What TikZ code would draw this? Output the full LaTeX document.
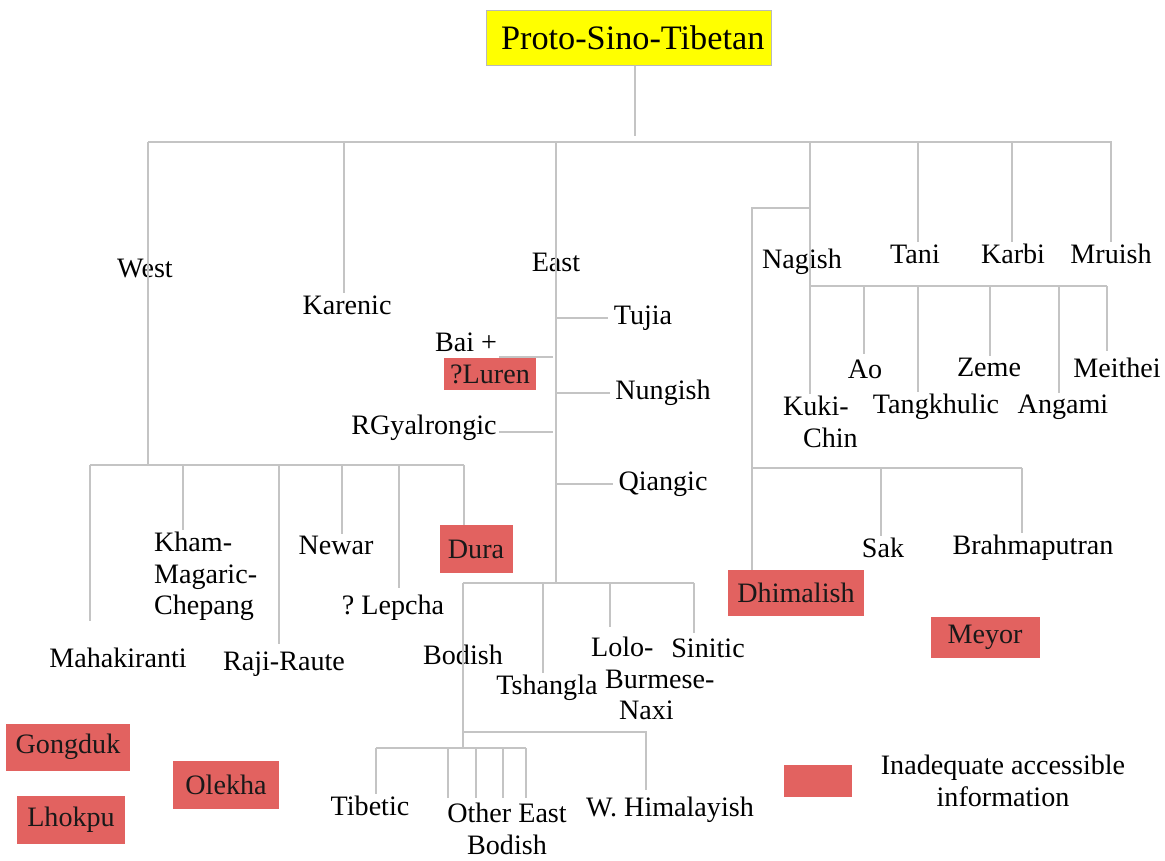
\documentclass[tikz,border=0pt]{standalone}
\usepackage{fontspec}
\setmainfont{Liberation Serif}
\usepackage{tikz}
\usetikzlibrary{positioning,calc}
\definecolor{rootyellow}{RGB}{255,255,0}
\definecolor{gapred}{RGB}{226,98,96}
\definecolor{branchgray}{RGB}{196,196,196}
\frenchspacing

\begin{document}
\begin{tikzpicture}[x=0.02cm, y=-0.02cm,
  lang/.style={font=\fontsize{16}{18}\selectfont, inner sep=1pt},
  gapbox/.style={lang, fill=gapred, text=black!90, inner sep=0pt},
  branch/.style={draw=branchgray, line width=0.7pt}]

\useasboundingbox (0,0) rectangle (1165,860);

%% ── ROOT ──────────────────────────────────────────────────────────────────
\node[draw=gray!55, line width=0.4pt, fill=rootyellow,
      font=\fontsize{19.5}{22}\selectfont,
      minimum width=5.7cm, minimum height=1.1cm] (root) at (629,38)
  {\hspace*{0.15cm}Proto-Sino-Tibetan};

\coordinate (rootend) at (635,136);
\coordinate (barW)    at (148,142);
\coordinate (barE)    at (1112,142);
\draw[branch] (root.south -| rootend) -- (rootend);
\draw[branch] (barW) -- (barE);

%% ── TOP-LEVEL LABELS ──────────────────────────────────────────────────────
\node[lang] (west)    at (145,268)  {West};
\node[lang] (karenic) at (347,305)  {Karenic};
\node[lang] (east)    at (556,262)  {East};
\node[lang] (nagish)  at (802,262)  {Nagish};
\node[lang] (tani)    at (915,254)  {Tani};
\node[lang] (karbi)   at (1013,254) {Karbi};
\node[lang] (mruish)  at (1111,254) {Mruish};

% drops that stop at a label
\foreach \x/\lbl in {344/karenic, 918/tani, 1012/karbi, 1111/mruish}{
  \coordinate (j) at (\x,142);
  \draw[branch] (j) -- (j |- \lbl.north);
}

%% ── WEST ──────────────────────────────────────────────────────────────────
\node[lang] (mahak)  at (118,658) {Mahakiranti};
\node[lang, align=left, anchor=north west] (kham) at (152,530)
  {Kham-\\Magaric-\\Chepang};
\node[lang] (raji)   at (284,664) {Raji-Raute};
\node[lang] (newar)  at (336,545) {Newar};
\node[lang] (lepcha) at (393,608) {? Lepcha};
\node[gapbox, minimum width=1.46cm, minimum height=0.96cm] (dura) at (476,549) {Dura};

\coordinate (westj) at (148,465);
\coordinate (wL)    at (90,465);
\coordinate (wR)    at (464,465);
\draw[branch] (barW) -- (westj);
\draw[branch] (wL) -- (wR);
\foreach \x/\lbl/\gap in {90/mahak/0.5cm, 183/kham/0cm, 279/raji/0.12cm,
                          342/newar/0cm, 399/lepcha/0.1cm, 464/dura/0cm}{
  \coordinate (j) at (\x,465);
  \draw[branch, shorten >=\gap] (j) -- (j |- \lbl.north);
}

%% ── EAST ──────────────────────────────────────────────────────────────────
\node[lang] (tujia)   at (643,318) {Tujia};
\node[lang] (bai)     at (466,342) {Bai +};
\node[gapbox, minimum width=1.84cm, minimum height=0.64cm] (luren) at (490,374) {?Luren};
\node[lang] (nungish) at (663,393) {Nungish};
\node[lang] (rgyal)   at (424,428) {RGyalrongic};
\node[lang] (qiangic) at (663,484) {Qiangic};

\coordinate (eastj)   at (556,142);
\coordinate (eastbot) at (556,583);
\draw[branch] (eastj) -- (eastbot);

% side twigs off the East trunk
\foreach \y/\lbl in {318/tujia, 393/nungish, 484/qiangic}{
  \coordinate (j) at (556,\y);
  \draw[branch, shorten >=2pt] (j) -- (j -| \lbl.west);
}
\foreach \y/\lbl in {357/bai, 432/rgyal}{
  \coordinate (j) at (553,\y);
  \draw[branch] (j) -- (j -| \lbl.east);
}

% lower East bar
\node[lang] (bodish)   at (463,655) {Bodish};
\node[lang] (tshangla) at (547,688) {Tshangla};
\node[lang, align=left, anchor=north west] (lolo) at (589,635)
  {Lolo-\\\hspace*{0.28cm}Burmese-\\\hspace*{0.56cm}Naxi};
\node[lang] (sinitic)  at (708,648) {Sinitic};

\coordinate (bodL) at (463,583);
\coordinate (bodR) at (694,583);
\draw[branch] (bodL) -- (bodR);
\foreach \x/\lbl/\gap in {543/tshangla/0cm, 610/lolo/0.16cm, 694/sinitic/0.06cm}{
  \coordinate (j) at (\x,583);
  \draw[branch, shorten >=\gap] (j) -- (j |- \lbl.north);
}

%% ── BODISH ────────────────────────────────────────────────────────────────
\node[lang] (tibetic) at (370,806) {Tibetic};
\node[lang, align=center] (otheast) at (507,829) {Other East\\Bodish};
\node[lang] (whim)    at (670,810) {W. Himalayish};

\coordinate (bodbot) at (463,748);
\coordinate (whj)    at (463,732);
\coordinate (whR)    at (646,732);
\coordinate (tibL)   at (376,748);
\coordinate (tibR)   at (526,748);
\draw[branch] (bodL) -- (bodbot);
\draw[branch, shorten >=0.1cm] (whj) -- (whR) -- (whR |- whim.north);
\draw[branch] (tibL) -- (tibR);
\draw[branch] (tibL) -- (tibL |- tibetic.north);
\foreach \x in {448,476,503,526}{
  \coordinate (j) at (\x,748);
  \draw[branch, shorten >=0.06cm] (j) -- (j |- otheast.north);
}

%% ── NAGISH GROUP ──────────────────────────────────────────────────────────
\node[lang, align=left, anchor=north west] (kuki) at (781,394)
  {Kuki-\\\hspace*{0.4cm}Chin};
\node[lang] (ao)      at (865,369)  {Ao};
\node[lang] (tangk)   at (936,407)  {Tangkhulic};
\node[lang] (zeme)    at (989,367)  {Zeme};
\node[lang] (angami)  at (1063,407) {Angami};
\node[lang] (meithei) at (1117,368) {Meithei};

\coordinate (nagj)   at (810,142);
\coordinate (nagL)   at (810,286);
\coordinate (nagR)   at (1107,286);
\draw[branch] (nagj) -- (nagL);
\draw[branch] (nagL) -- (nagR);
\foreach \x/\lbl/\gap in {810/kuki/0cm, 864/ao/0.06cm, 918/tangk/0cm,
                          990/zeme/0cm, 1059/angami/0cm, 1107/meithei/0.1cm}{
  \coordinate (j) at (\x,286);
  \draw[branch, shorten >=\gap] (j) -- (j |- \lbl.north);
}

% bracket down to Dhimalish, Sak, Brahmaputran
\node[gapbox, minimum width=2.72cm, minimum height=0.92cm] (dhimal) at (796,593) {Dhimalish};
\node[lang] (sak)    at (883,548)  {Sak};
\node[lang] (brahma) at (1033,548) {Brahmaputran};

\coordinate (brk)  at (810,208);
\coordinate (brkL) at (752,208);
\coordinate (sakL) at (752,468);
\coordinate (sakR) at (1022,468);
\draw[branch] (brk) -- (brkL) -- (brkL |- dhimal.north);
\draw[branch] (sakL) -- (sakR);
\foreach \x/\lbl in {881/sak, 1022/brahma}{
  \coordinate (j) at (\x,468);
  \draw[branch] (j) -- (j |- \lbl.north);
}

\node[gapbox, minimum width=2.18cm, minimum height=0.82cm] (meyor) at (985,637) {Meyor};

%% ── UNPLACED LANGUAGES ────────────────────────────────────────────────────
\node[gapbox, minimum width=2.5cm,  minimum height=0.94cm] (gongduk) at (68,747)  {Gongduk};
\node[gapbox, minimum width=2.16cm, minimum height=0.96cm] (lhokpu)  at (71,820)  {Lhokpu};
\node[gapbox, minimum width=2.12cm, minimum height=0.96cm] (olekha)  at (226,785) {Olekha};

%% ── KEY ───────────────────────────────────────────────────────────────────
\node[fill=gapred, minimum width=1.36cm, minimum height=0.64cm, inner sep=0pt] (key) at (818,781) {};
\node[lang, align=center] (keytext) at (1003,781) {Inadequate accessible\\information};

\end{tikzpicture}
\end{document}
